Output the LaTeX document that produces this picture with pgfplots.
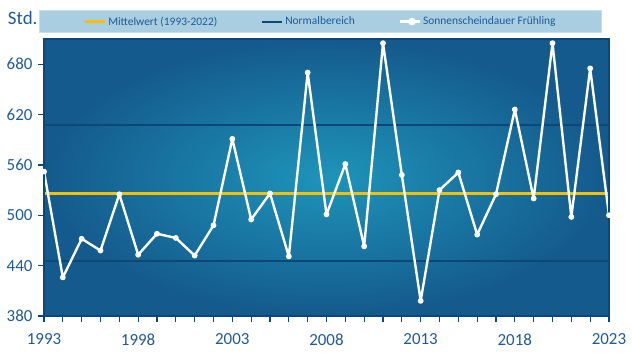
\documentclass[border=0pt]{standalone}
\usepackage{pgfplots}
\pgfplotsset{compat=1.18}
\usepackage{fontspec}
\setmainfont{Carlito}
\definecolor{txtblue}{HTML}{1E5A96}
\definecolor{bgOut}{HTML}{145A8C}
\definecolor{bgIn}{HTML}{1E94B9}
\definecolor{axnavy}{HTML}{0C4778}
\definecolor{meanyel}{HTML}{F5C000}
\definecolor{legbg}{HTML}{A9CEE1}
\definecolor{legbd}{HTML}{C8DFEB}
\begin{document}
\begin{tikzpicture}
\begin{axis}[
  width=565bp, height=277bp, scale only axis,
  xmin=1993, xmax=2023, ymin=380, ymax=710,
  axis on top,
  axis line style={draw=axnavy, line width=1.4pt},
  axis background/.style={inner color=bgIn, outer color=bgOut},
  xtick={1993,1994,...,2023},
  xticklabels={1993,,,,,1998,,,,,2003,,,,,2008,,,,,2013,,,,,2018,,,,,2023},
  ytick={380,440,...,680},
  xtick pos=bottom, ytick pos=left,
  tick align=outside,
  major tick length=6bp,
  tick style={draw=axnavy, line width=1.2pt},
  tick label style={font=\fontsize{17}{19}\selectfont, text=txtblue},
  /pgf/number format/assume math mode=true,
  x tick label style={yshift=-8bp},
  y tick label style={xshift=-2bp},
  ylabel={Std.},
  every axis y label/.style={at={(axis description cs:0,1)}, anchor=east, xshift=-3bp, yshift=21bp, font=\fontsize{19}{21}\selectfont, text=txtblue},
  legend columns=3,
  legend style={at={(axis description cs:0.5,1)}, anchor=south, xshift=-6bp, yshift=6bp,
    fill=legbg, draw=legbd, line width=1pt, font=\fontsize{11.5}{13}\selectfont, text=txtblue,
    inner xsep=44bp, inner ysep=4bp,
    /tikz/every even column/.append style={column sep=42bp}},
  legend image code/.code={\draw[#1] (0bp,0bp) -- (20bp,0bp);},
]
\addplot[axnavy, line width=2pt, forget plot] coordinates {(1993,446) (2023,446)};
\addplot[meanyel, line width=3pt] coordinates {(1993,526.4) (2023,526.4)};
\addlegendentry{Mittelwert (1993-2022)}
\addplot[axnavy, line width=2pt] coordinates {(1993,607) (2023,607)};
\addlegendentry{Normalbereich}
\addplot[white, line width=2.4pt, line join=round, mark=*, mark size=2.4pt, mark options={white, line width=1pt},
  legend image code/.code={\draw[white, line width=2.4pt] (0bp,0bp) -- (20bp,0bp); \fill[white] (12bp,0bp) circle (2.6bp);}] coordinates {
(1993,552) (1994,426) (1995,472) (1996,458) (1997,525) (1998,453) (1999,478) (2000,473)
(2001,452) (2002,488) (2003,591) (2004,495) (2005,526) (2006,451) (2007,670) (2008,501)
(2009,561) (2010,463) (2011,705) (2012,548) (2013,398) (2014,530) (2015,551) (2016,477)
(2017,525) (2018,626) (2019,520) (2020,705) (2021,498) (2022,675) (2023,500)};
\addlegendentry{Sonnenscheindauer Frühling}
\end{axis}
\path (-44bp,-39bp) rectangle (588bp,316bp);
\end{tikzpicture}
\end{document}
